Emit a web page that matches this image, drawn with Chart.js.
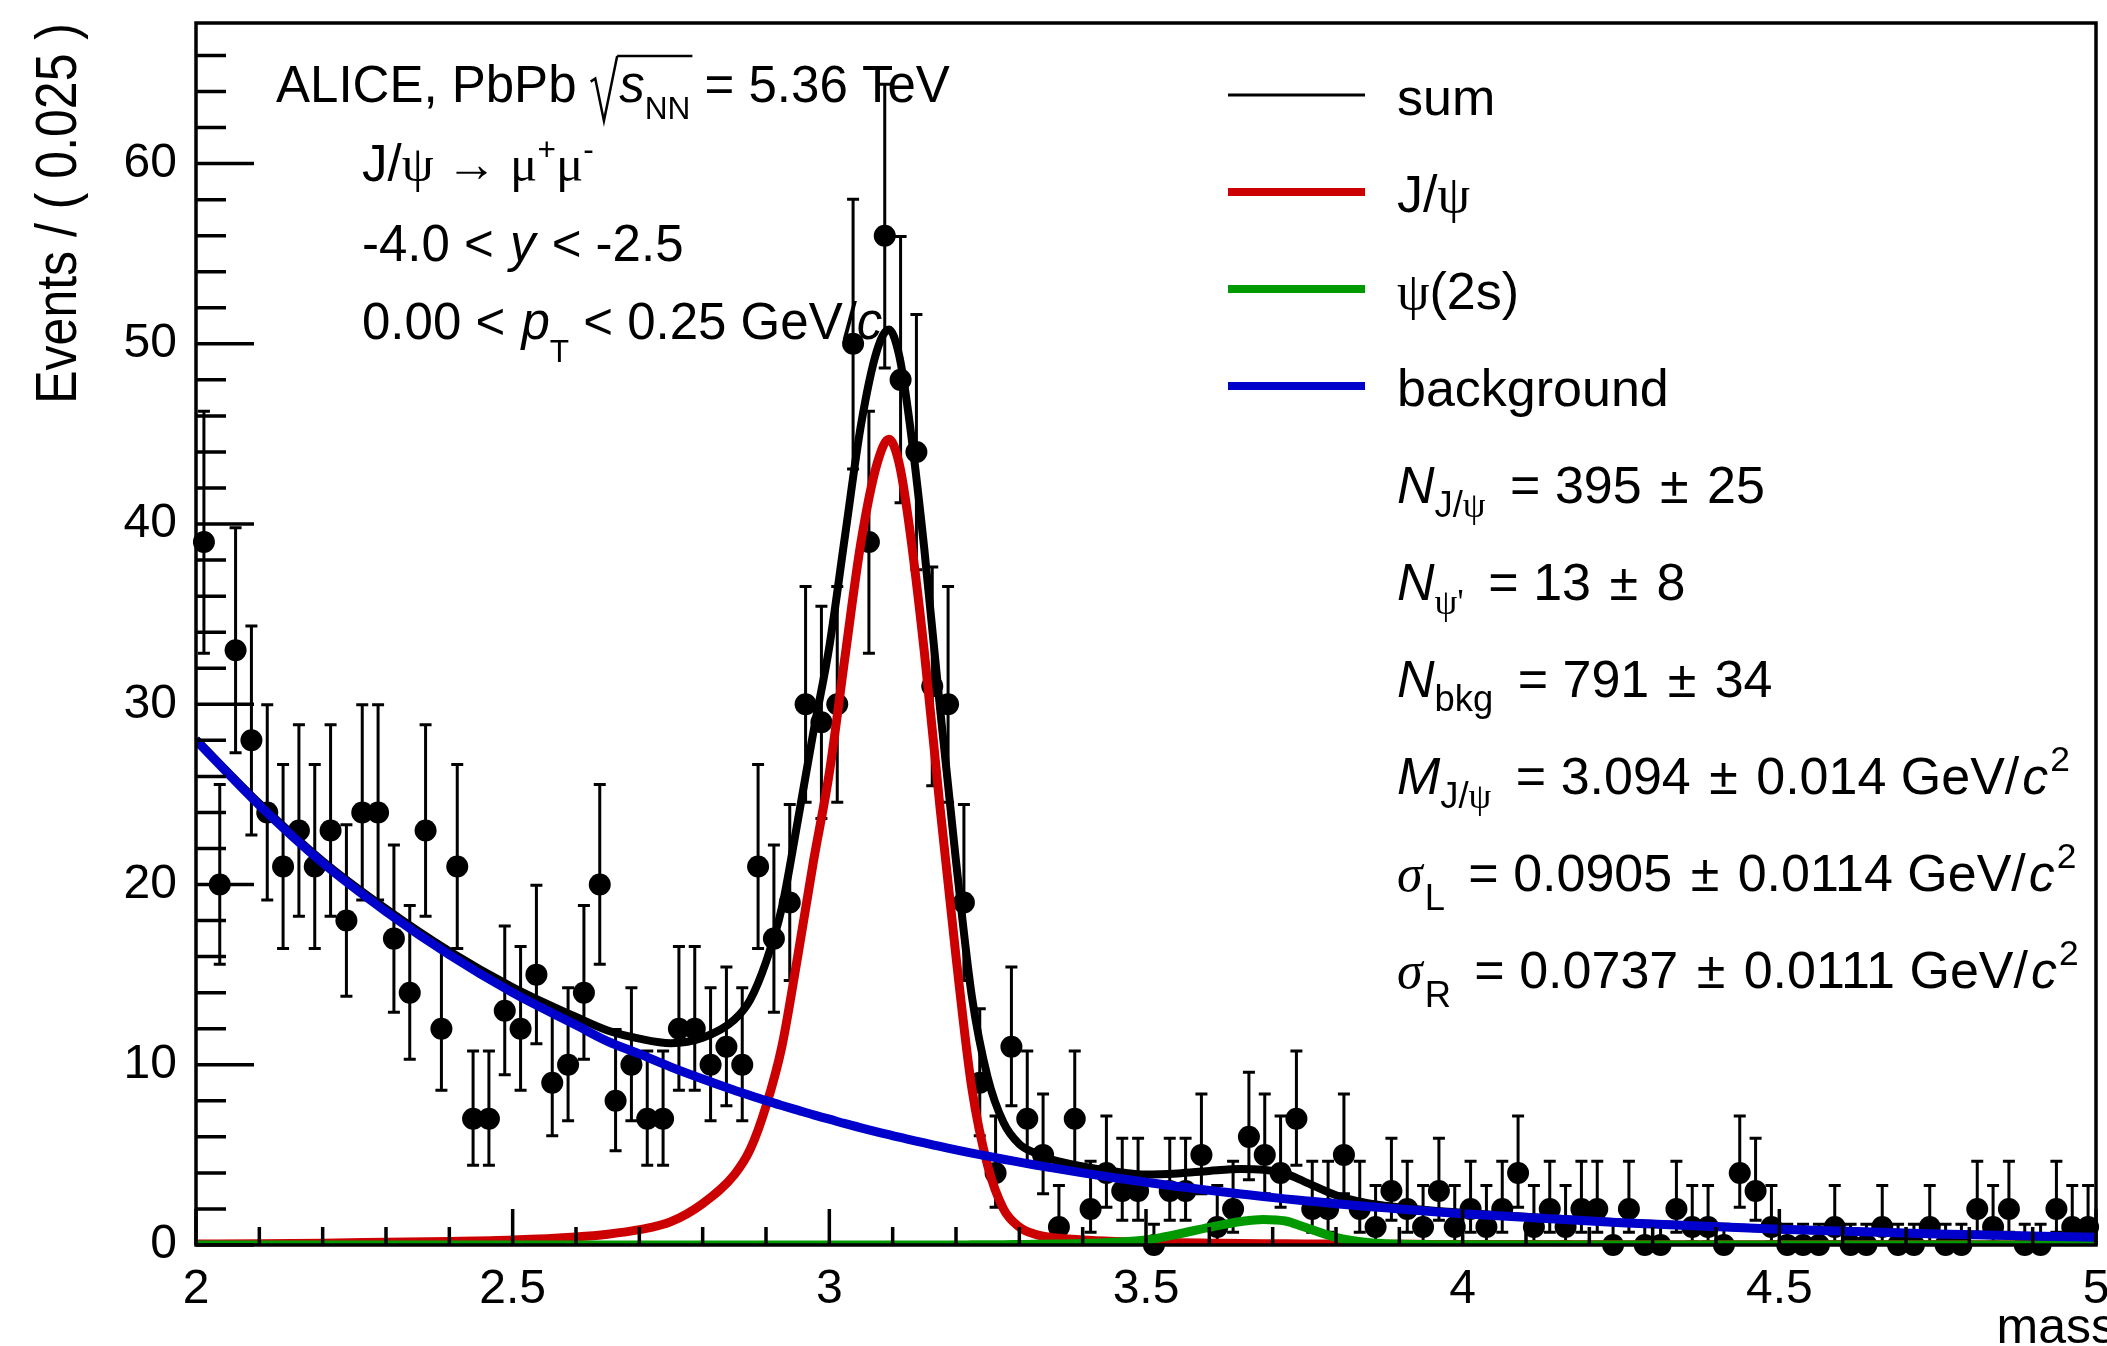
<!DOCTYPE html>
<html>
<head>
<meta charset="utf-8">
<script src="https://cdn.jsdelivr.net/npm/chart.js@4.4.1/dist/chart.umd.min.js"></script>
<style>
  html, body { margin: 0; padding: 0; background: #fff; }
  #wrap { width: 2107px; height: 1346px; }
</style>
</head>
<body>
<div id="wrap"><canvas id="plot" width="2107" height="1346"></canvas></div>
<script>
// ===== DATA =====
const massMin = 2.0;
const binWidth = 0.025;

// events per 0.025 GeV/c2 bin, 2.0 -> 5.0
const counts = [
  39, 20, 33, 28, 24, 21, 23, 21, 23, 18,
  24, 24, 17, 14, 23, 12, 21, 7, 7, 13,
  12, 15, 9, 10, 14, 20, 8, 10, 7, 7,
  12, 12, 10, 11, 10, 21, 17, 19, 30, 29,
  30, 50, 39, 56, 48, 44, 31, 30, 19, 9,
  4, 11, 7, 5, 1, 7, 2, 4, 3, 3,
  0, 3, 3, 5, 1, 2, 6, 5, 4, 7,
  2, 2, 5, 2, 1, 3, 2, 1, 3, 1,
  2, 1, 2, 4, 1, 2, 1, 2, 2, 0,
  2, 0, 0, 2, 1, 1, 0, 4, 3, 1,
  0, 0, 0, 1, 0, 0, 1, 0, 0, 1,
  0, 0, 2, 1, 2, 0, 0, 2, 1, 1
];
const binCentres = counts.map((_, i) => massMin + binWidth * (i + 0.5));

// asymmetric poisson error bars as drawn (count -> [low, high])
const poissonBand = {
  0: [0, 1.15], 1: [0.17, 3.30], 2: [0.71, 4.64], 3: [1.37, 5.92], 4: [2.09, 7.16],
  5: [2.84, 8.38], 6: [3.62, 9.58], 7: [4.42, 10.77], 8: [5.23, 11.95], 9: [6.06, 13.11],
  10: [6.89, 14.27], 11: [7.73, 15.42], 12: [8.58, 16.56], 13: [9.44, 17.70], 14: [10.30, 18.83],
  15: [11.17, 19.96], 17: [12.92, 22.20], 18: [13.80, 23.32], 19: [14.68, 24.44], 20: [15.57, 25.55],
  21: [16.45, 26.66], 23: [18.24, 28.87], 24: [19.14, 29.97], 28: [22.75, 34.35], 29: [23.66, 35.44],
  30: [24.57, 36.53], 31: [25.48, 37.62], 33: [27.31, 39.79], 39: [32.83, 46.26], 44: [37.46, 51.62],
  48: [41.18, 55.95], 50: [43.05, 58.02], 56: [48.66, 64.40]
};

// fit curves
const massGrid = [
  2.0, 2.1, 2.2, 2.3, 2.4, 2.5, 2.6, 2.65, 2.7, 2.75,
  2.8, 2.85, 2.875, 2.9, 2.925, 2.95, 2.975, 3.0, 3.025, 3.05,
  3.075, 3.094, 3.11, 3.125, 3.15, 3.175, 3.2, 3.225, 3.25, 3.275,
  3.3, 3.325, 3.35, 3.4, 3.45, 3.5, 3.55, 3.6, 3.65, 3.685,
  3.72, 3.75, 3.8, 3.85, 3.9, 3.95, 4.0, 4.25, 4.5, 4.75, 5.0
];
const sumCurve = [
  28.05, 24.5, 21.3, 18.65, 16.3, 14.3, 12.65, 11.9, 11.45, 11.2,
  11.5, 12.5, 13.6, 15.7, 18.7, 23.5, 28.5, 33.2, 39.4, 45.5,
  49.6, 50.8, 49.4, 46.1, 38.6, 29.7, 21.3, 13.8, 9.3, 6.8,
  5.6, 5.1, 4.76, 4.36, 4.08, 3.91, 3.97, 4.11, 4.21, 4.18,
  3.96, 3.52, 2.76, 2.32, 2.09, 1.91, 1.78, 1.25, 0.88, 0.61, 0.43
];
const jpsiCurve = [
  0.05, 0.07, 0.1, 0.15, 0.2, 0.28, 0.45, 0.6, 0.85, 1.3,
  2.3, 3.9, 5.3, 7.7, 11.0, 16.0, 21.3, 26.2, 32.7, 39.0,
  43.3, 44.7, 43.4, 40.2, 32.9, 24.2, 16.0, 8.7, 4.4, 2.0,
  1.0, 0.6, 0.42, 0.28, 0.2, 0.15, 0.12, 0.1, 0.08, 0.07,
  0.065, 0.06, 0.05, 0.04, 0.04, 0.03, 0.03, 0.02, 0.01, 0.01, 0.01
];
const psi2sCurve = [
  0, 0, 0, 0, 0, 0, 0, 0, 0, 0,
  0, 0, 0, 0, 0, 0, 0, 0, 0, 0,
  0, 0, 0, 0, 0, 0, 0, 0.01, 0.02, 0.02,
  0.03, 0.04, 0.05, 0.08, 0.15, 0.28, 0.6, 0.98, 1.3, 1.42,
  1.33, 1.0, 0.42, 0.14, 0.05, 0.02, 0.01, 0, 0, 0, 0
];
const bkgCurve = [
  28.0, 24.4, 21.2, 18.5, 16.1, 14.0, 12.2, 11.3, 10.6, 9.87,
  9.21, 8.59, 8.30, 8.01, 7.74, 7.48, 7.22, 6.98, 6.73, 6.50,
  6.28, 6.12, 5.98, 5.86, 5.66, 5.47, 5.28, 5.10, 4.93, 4.76,
  4.60, 4.44, 4.29, 4.00, 3.73, 3.48, 3.25, 3.03, 2.83, 2.69,
  2.56, 2.46, 2.29, 2.14, 2.00, 1.86, 1.74, 1.23, 0.87, 0.61, 0.43
];

const xMajorTicks = [2, 2.5, 3, 3.5, 4, 4.5, 5];
const xTickLabels = ['2', '2.5', '3', '3.5', '4', '4.5', '5'];
const yMajorTicks = [0, 10, 20, 30, 40, 50, 60];
const yMax = 67.8;

// ===== STYLE =====
const SANS = "'Liberation Sans', Arial, Helvetica, sans-serif";
const SERIF = "'Liberation Serif', 'DejaVu Serif', serif";
const red = '#cc0000';
const green = '#009900';
const blue = '#0000cc';

const toPoints = (xs, ys) => xs.map((m, i) => ({ x: m, y: ys[i] }));

// draws a run of text pieces (italic / greek / sub / sup) along one baseline
function drawRich(ctx, x, y, size, parts, hScale = 1) {
  ctx.save();
  ctx.translate(x, y);
  ctx.scale(hScale, 1);
  ctx.fillStyle = '#000';
  ctx.strokeStyle = '#000';
  ctx.textBaseline = 'alphabetic';
  ctx.textAlign = 'left';
  let cx = 0, radStart = 0;
  parts.forEach(p => {
    if (p.rad) {
      ctx.lineWidth = 2.5;
      ctx.beginPath();
      ctx.moveTo(cx, -0.4 * size);
      ctx.lineTo(cx + 0.09 * size, -0.46 * size);
      ctx.lineTo(cx + 0.26 * size, 0.37 * size);
      ctx.lineTo(cx + 0.52 * size, -0.9 * size);
      ctx.stroke();
      radStart = cx + 0.52 * size;
      cx += 0.56 * size;
      return;
    }
    if (p.radEnd) {
      ctx.lineWidth = 2.5;
      ctx.beginPath();
      ctx.moveTo(radStart, -0.9 * size);
      ctx.lineTo(cx + 2, -0.9 * size);
      ctx.stroke();
      return;
    }
    let s = size, dy = 0;
    if (p.sub) { s = size * (p.scale || 0.68); dy = size * (p.off || 0.28); }
    if (p.sup) { s = size * (p.scale || 0.68); dy = -size * (p.off || 0.42); }
    ctx.font = (p.it ? 'italic ' : '') + s + 'px ' + (p.serif ? SERIF : SANS);
    ctx.fillText(p.t, cx, dy);
    cx += ctx.measureText(p.t).width + (p.gap || 0);
  });
  ctx.restore();
  return cx;
}

// ===== PLUGINS =====
const errorBars = {
  id: 'errorBars',
  beforeDatasetsDraw(chart) {
    const { ctx, scales: { x, y } } = chart;
    ctx.save();
    ctx.strokeStyle = '#000';
    ctx.lineWidth = 3;
    counts.forEach((n, i) => {
      const [lo, hi] = poissonBand[n];
      const px = x.getPixelForValue(binCentres[i]);
      const yLo = y.getPixelForValue(lo);
      const yHi = y.getPixelForValue(hi);
      ctx.beginPath();
      ctx.moveTo(px, yLo); ctx.lineTo(px, yHi);
      ctx.moveTo(px - 6, yHi); ctx.lineTo(px + 6, yHi);
      if (n > 0) { ctx.moveTo(px - 6, yLo); ctx.lineTo(px + 6, yLo); }
      ctx.stroke();
    });
    ctx.restore();
  }
};

const rootFrame = {
  id: 'rootFrame',
  afterDraw(chart) {
    const { ctx, chartArea: a, scales: { x, y } } = chart;
    ctx.save();
    ctx.strokeStyle = '#000';
    ctx.lineWidth = 3.5;
    ctx.strokeRect(a.left, a.top, a.right - a.left, a.bottom - a.top);
    ctx.beginPath();
    // x ticks: major every 0.5, minor every 0.1
    for (let k = 0; k <= 30; k++) {
      const px = x.getPixelForValue(2 + k * 0.1);
      const len = k % 5 === 0 ? 36 : 18;
      ctx.moveTo(px, a.bottom); ctx.lineTo(px, a.bottom - len);
    }
    // y ticks: major every 10, minor every 2
    for (let v = 0; v <= yMax; v += 2) {
      const py = y.getPixelForValue(v);
      const len = v % 10 === 0 ? 58 : 30;
      ctx.moveTo(a.left, py); ctx.lineTo(a.left + len, py);
    }
    ctx.stroke();

    // axis titles
    ctx.fillStyle = '#000';
    ctx.font = '50px ' + SANS;
    ctx.textAlign = 'right';
    ctx.textBaseline = 'alphabetic';
    ctx.fillText('mass', 2116, 1343);
    ctx.save();
    ctx.translate(76, a.top);
    ctx.rotate(-Math.PI / 2);
    ctx.scale(1, 1.15);
    ctx.fillText('Events / ( 0.025 )', 0, 0);
    ctx.restore();

    // top-left labels
    const fs = 51;
    drawRich(ctx, 276, 102, fs, [
      { t: 'ALICE, PbPb ' }, { rad: true }, { t: 's', it: true },
      { t: 'NN', sub: true, scale: 0.62, off: 0.33 }, { radEnd: true }, { t: ' = 5.36 TeV' }
    ]);
    drawRich(ctx, 362, 181, fs, [
      { t: 'J/' }, { t: 'ψ', serif: true }, { t: ' \u2192 ', serif: true },
      { t: 'μ', serif: true }, { t: '+', sup: true, scale: 0.62 },
      { t: 'μ', serif: true }, { t: '-', sup: true, scale: 0.62 }
    ]);
    drawRich(ctx, 362, 261, fs, [
      { t: '-4.0 < ', gap: 2 }, { t: 'y', it: true, gap: 2 }, { t: ' < -2.5' }
    ]);
    drawRich(ctx, 362, 339, fs, [
      { t: '0.00 < ', gap: 2 }, { t: 'p', it: true }, { t: 'T', sub: true, scale: 0.62, off: 0.45 },
      { t: ' < 0.25 GeV/' }, { t: 'c', it: true }
    ]);

    // legend + fit results
    const lx0 = 1228, lx1 = 1365, tx = 1397, fz = 52;
    const rowY = i => 115 + 97 * i;
    const legendRows = [
      { color: '#000', width: 3, parts: [{ t: 'sum' }] },
      { color: red, width: 8, parts: [{ t: 'J/' }, { t: 'ψ', serif: true }] },
      { color: green, width: 8, parts: [{ t: 'ψ', serif: true }, { t: '(2s)' }] },
      { color: blue, width: 8, parts: [{ t: 'background' }] }
    ];
    legendRows.forEach((r, i) => {
      ctx.strokeStyle = r.color;
      ctx.lineWidth = r.width;
      ctx.beginPath();
      ctx.moveTo(lx0, rowY(i) - 20); ctx.lineTo(lx1, rowY(i) - 20);
      ctx.stroke();
      drawRich(ctx, tx, rowY(i), fz, r.parts);
    });
    const sub = (t, extra) => Object.assign({ t, sub: true, scale: 0.7, off: 0.27 }, extra || {});
    const pm = (a, b) => [{ t: ' = ' + a, gap: 4 }, { t: ' ±', gap: 4 }, { t: ' ' + b }];
    const unit = [{ t: ' GeV/', gap: 3 }, { t: 'c', it: true, gap: 2 }, { t: '2', sup: true, scale: 0.68, off: 0.45 }];
    const results = [
      [{ t: 'N', it: true }, sub('J/'), sub('ψ', { serif: true, gap: 10 }), ...pm('395', '25')],
      [{ t: 'N', it: true }, sub('ψ\'', { serif: true, gap: 10 }), ...pm('13', '8')],
      [{ t: 'N', it: true }, sub('bkg', { gap: 10 }), ...pm('791', '34')],
      [{ t: 'M', it: true }, sub('J/'), sub('ψ', { serif: true, gap: 10 }), ...pm('3.094', '0.014'), ...unit],
      [{ t: 'σ', it: true, serif: true, gap: 2 }, sub('L', { off: 0.36, gap: 9 }), ...pm('0.0905', '0.0114'), ...unit],
      [{ t: 'σ', it: true, serif: true, gap: 2 }, sub('R', { off: 0.36, gap: 9 }), ...pm('0.0737', '0.0111'), ...unit]
    ];
    results.forEach((parts, i) => drawRich(ctx, tx, rowY(i + 4), fz, parts));
    ctx.restore();
  }
};

// ===== CHART =====
const curve = (label, ys, color, width, order) => ({
  type: 'line',
  label,
  data: toPoints(massGrid, ys),
  borderColor: color,
  borderWidth: width,
  pointRadius: 0,
  fill: false,
  cubicInterpolationMode: 'monotone',
  order
});

new Chart(document.getElementById('plot'), {
  type: 'scatter',
  data: {
    datasets: [
      {
        label: 'data',
        data: toPoints(binCentres, counts),
        pointRadius: 11,
        pointBackgroundColor: '#000',
        pointBorderWidth: 0,
        showLine: false,
        clip: false,
        order: 10
      },
      curve('sum', sumCurve, '#000', 8, 4),
      curve('J/ψ', jpsiCurve, red, 9, 3),
      curve('ψ(2s)', psi2sCurve, green, 9, 2),
      curve('background', bkgCurve, blue, 9, 1)
    ]
  },
  options: {
    responsive: false,
    devicePixelRatio: 1,
    animation: false,
    layout: { padding: { left: 0, right: 2, top: 23, bottom: 0 } },
    plugins: { legend: { display: false }, tooltip: { enabled: false } },
    scales: {
      x: {
        type: 'linear',
        position: 'bottom',
        min: 2, max: 5,
        grid: { display: false },
        border: { display: false },
        afterBuildTicks: s => { s.ticks = xMajorTicks.map(v => ({ value: v })); },
        ticks: {
          color: '#000',
          font: { family: SANS, size: 48 },
          padding: 8,
          maxRotation: 0,
          autoSkip: false,
          callback: v => xTickLabels[xMajorTicks.indexOf(v)]
        },
        afterFit: s => { s.height = 101; s.paddingLeft = 0; s.paddingRight = 0; }
      },
      y: {
        type: 'linear',
        position: 'left',
        min: 0, max: yMax,
        grid: { display: false },
        border: { display: false },
        afterBuildTicks: s => { s.ticks = yMajorTicks.map(v => ({ value: v })); },
        ticks: {
          color: '#000',
          font: { family: SANS, size: 48 },
          padding: 11,
          autoSkip: false
        },
        afterFit: s => { s.width = 196; s.paddingTop = 0; s.paddingBottom = 0; }
      }
    }
  },
  plugins: [errorBars, rootFrame]
});
</script>
</body>
</html>
